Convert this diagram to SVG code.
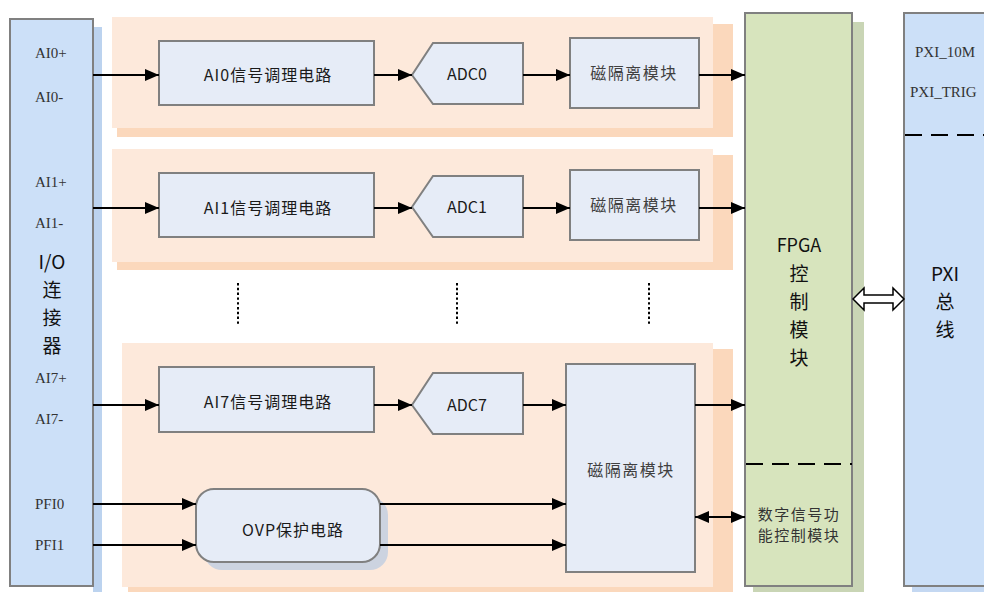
<svg xmlns="http://www.w3.org/2000/svg" width="984" height="592" viewBox="0 0 984 592">
<defs>
<marker id="ah" viewBox="0 0 14 12" refX="14" refY="6" markerWidth="14" markerHeight="12" markerUnits="userSpaceOnUse" orient="auto-start-reverse">
<path d="M0,0 L14,6 L0,12 z" fill="#000"/>
</marker>
</defs>
<style>
.blk{fill:#e6ecf7;stroke:#808080;stroke-width:2}
.pnl{fill:#fde9db}
.pnls{fill:#fbd8bc}
.cj{font-family:"Noto Sans CJK SC","Noto Sans",sans-serif;text-anchor:middle;dominant-baseline:central}
.pin{font-family:"Liberation Serif","DejaVu Serif",serif;font-size:15px;fill:#333;dominant-baseline:central}
.ln{stroke:#000;stroke-width:2;fill:none}
.arr{stroke:#000;stroke-width:2;fill:none;marker-end:url(#ah)}
.dash{stroke:#000;stroke-width:2;stroke-dasharray:17,9;fill:none}
.dot{stroke:#000;stroke-width:2;stroke-dasharray:2.4,2.4;fill:none}
</style>

<g id="panel0">
<rect class="pnls" x="117" y="24" width="616" height="113"/>
<rect class="pnl" x="112" y="17" width="601" height="111"/>
</g>
<g id="panel1">
<rect class="pnls" x="117" y="155" width="616" height="115"/>
<rect class="pnl" x="112" y="149" width="601" height="113"/>
</g>
<g id="panel7">
<rect class="pnls" x="128" y="349" width="605" height="243"/>
<rect class="pnl" x="122" y="343" width="591" height="244"/>
</g>

<g id="io">
<rect x="93" y="27" width="9" height="565" fill="#bcd3ef"/>
<rect x="10" y="19" width="83" height="567" fill="#cce0f8" stroke="#808080" stroke-width="2"/>
<text class="pin" x="35" y="53">AI0+</text>
<text class="pin" x="35" y="97">AI0-</text>
<text class="pin" x="35" y="182">AI1+</text>
<text class="pin" x="35" y="223">AI1-</text>
<text class="pin" x="35" y="378">AI7+</text>
<text class="pin" x="35" y="419">AI7-</text>
<text class="pin" x="35" y="504">PFI0</text>
<text class="pin" x="35" y="545">PFI1</text>
<text class="cj" x="52" y="260" font-size="19" fill="#111">I/O</text>
<text class="cj" x="52" y="288" font-size="19" fill="#111">连</text>
<text class="cj" x="52" y="316" font-size="19" fill="#111">接</text>
<text class="cj" x="52" y="344" font-size="19" fill="#111">器</text>
</g>

<g id="cond0">
<rect class="blk" x="159" y="41" width="215" height="64"/>
<text class="cj" x="268" y="74" font-size="16" letter-spacing="1" fill="#1a1a1a">AI0信号调理电路</text>
</g>
<g id="cond1">
<rect class="blk" x="159" y="173" width="215" height="64"/>
<text class="cj" x="268" y="207" font-size="16" letter-spacing="1" fill="#1a1a1a">AI1信号调理电路</text>
</g>
<g id="cond7">
<rect class="blk" x="159" y="367" width="215" height="65"/>
<text class="cj" x="268" y="401" font-size="16" letter-spacing="1" fill="#1a1a1a">AI7信号调理电路</text>
</g>

<g id="adc0">
<polygon class="blk" points="433,43 523,43 523,104 433,104 412,75"/>
<text class="cj" x="467" y="73" font-size="16" fill="#1a1a1a">ADC0</text>
</g>
<g id="adc1">
<polygon class="blk" points="433,176 523,176 523,237 433,237 412,207"/>
<text class="cj" x="467" y="206" font-size="16" fill="#1a1a1a">ADC1</text>
</g>
<g id="adc7">
<polygon class="blk" points="433,373 523,373 523,434 433,434 412,405"/>
<text class="cj" x="467" y="404" font-size="16" fill="#1a1a1a">ADC7</text>
</g>

<g id="iso0">
<rect class="blk" x="570" y="38" width="129" height="70"/>
<text class="cj" x="634" y="72" font-size="16" letter-spacing="1.5" fill="#404040">磁隔离模块</text>
</g>
<g id="iso1">
<rect class="blk" x="570" y="170" width="129" height="70"/>
<text class="cj" x="634" y="204" font-size="16" letter-spacing="1.5" fill="#404040">磁隔离模块</text>
</g>
<g id="iso7">
<rect class="blk" x="566" y="364" width="129" height="208"/>
<text class="cj" x="631" y="469" font-size="16" letter-spacing="1.5" fill="#404040">磁隔离模块</text>
</g>

<g id="ovp">
<rect x="204" y="497" width="184" height="73" rx="18" fill="#ccd3e0"/>
<rect x="196" y="489" width="184" height="73" rx="18" fill="#e6ecf7" stroke="#808080" stroke-width="2"/>
<text class="cj" x="293" y="529" font-size="16" letter-spacing="1" fill="#1a1a1a">OVP保护电路</text>
</g>

<g id="fpga">
<rect x="753" y="22" width="111" height="570" fill="#c9d5b5"/>
<rect x="745" y="13" width="107" height="573" fill="#d7e4bd" stroke="#808080" stroke-width="2"/>
<text class="cj" x="799" y="244" font-size="18" fill="#111">FPGA</text>
<text class="cj" x="799" y="272" font-size="19" fill="#111">控</text>
<text class="cj" x="799" y="300" font-size="19" fill="#111">制</text>
<text class="cj" x="799" y="328" font-size="19" fill="#111">模</text>
<text class="cj" x="799" y="356" font-size="19" fill="#111">块</text>
<line class="dash" x1="746" y1="464" x2="852" y2="464"/>
<text class="cj" x="799" y="513" font-size="15" letter-spacing="1.5" fill="#333">数字信号功</text>
<text class="cj" x="799" y="534" font-size="15" letter-spacing="1.5" fill="#333">能控制模块</text>
</g>

<g id="pxi">
<rect x="912" y="21" width="80" height="571" fill="#c4d8f2"/>
<rect x="904" y="13" width="90" height="573" fill="#cce0f8" stroke="#808080" stroke-width="2"/>
<text class="pin" x="915" y="52">PXI_10M</text>
<text class="pin" x="910" y="92">PXI_TRIG</text>
<line class="dash" x1="905" y1="135" x2="984" y2="135"/>
<text class="cj" x="945" y="272" font-size="19" fill="#111">PXI</text>
<text class="cj" x="945" y="300" font-size="19" fill="#111">总</text>
<text class="cj" x="945" y="328" font-size="19" fill="#111">线</text>
</g>

<g id="connectors">
<line class="arr" x1="93" y1="75" x2="159" y2="75"/>
<line class="arr" x1="374" y1="75" x2="412" y2="75"/>
<line class="arr" x1="523" y1="75" x2="570" y2="75"/>
<line class="arr" x1="699" y1="75" x2="745" y2="75"/>
<line class="arr" x1="93" y1="208" x2="159" y2="208"/>
<line class="arr" x1="374" y1="208" x2="412" y2="208"/>
<line class="arr" x1="523" y1="208" x2="570" y2="208"/>
<line class="arr" x1="699" y1="208" x2="745" y2="208"/>
<line class="arr" x1="93" y1="405" x2="159" y2="405"/>
<line class="arr" x1="374" y1="405" x2="412" y2="405"/>
<line class="arr" x1="523" y1="405" x2="566" y2="405"/>
<line class="arr" x1="695" y1="405" x2="745" y2="405"/>
<line class="arr" x1="93" y1="504" x2="196" y2="504"/>
<line class="arr" x1="93" y1="545" x2="196" y2="545"/>
<line class="arr" x1="380" y1="504" x2="566" y2="504"/>
<line class="arr" x1="380" y1="545" x2="566" y2="545"/>
<line class="arr" x1="695" y1="517" x2="745" y2="517" marker-start="url(#ah)"/>
<line class="dot" x1="238" y1="283" x2="238" y2="324"/>
<line class="dot" x1="457" y1="283" x2="457" y2="324"/>
<line class="dot" x1="649" y1="283" x2="649" y2="324"/>
<polygon points="853,299 864,288 864,295 893,295 893,288 904,299 893,310 893,303 864,303 864,310" fill="#fff" stroke="#000" stroke-width="1.5"/>
</g>
</svg>
